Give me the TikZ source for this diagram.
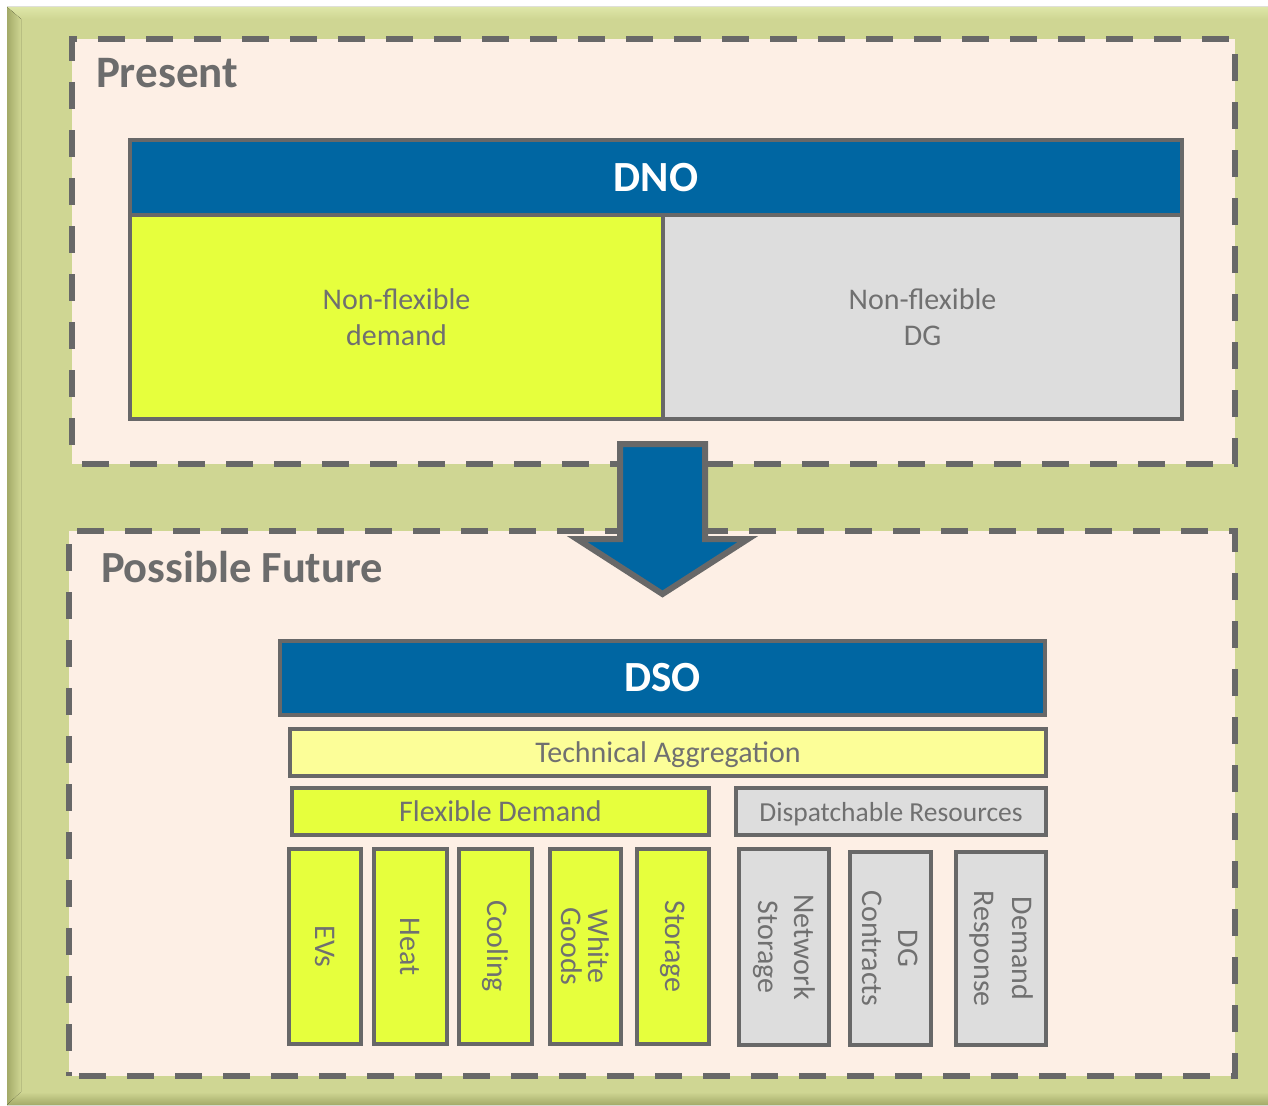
\documentclass[tikz,border=0pt]{standalone}
\usepackage{fontspec}
\setmainfont{Carlito}
\definecolor{frameGreen}{HTML}{CFD693}
\definecolor{frameLight}{HTML}{DEE6A8}
\definecolor{frameDark}{HTML}{A3AA68}
\definecolor{peach}{HTML}{FDEFE5}
\definecolor{edgeGray}{HTML}{686868}
\definecolor{txtGray}{HTML}{707070}
\definecolor{headGray}{HTML}{6C6C6C}
\definecolor{dnoBlue}{HTML}{0066A2}
\definecolor{limeFill}{HTML}{E6FF3D}
\definecolor{paleYellow}{HTML}{FCFE98}
\definecolor{lightGray}{HTML}{DDDDDD}
\begin{document}
\begin{tikzpicture}[x=1pt,y=-1pt,
  panel/.style={draw=edgeGray, fill=peach, line width=6pt,
    dash pattern=on 27pt off 21pt, dash phase=-10pt,
    inner sep=0pt, outer sep=0pt, anchor=north west},
  heading/.style={anchor=base west, inner sep=0pt, outer sep=0pt, text=headGray,
    font=\bfseries\fontsize{45}{54}\selectfont},
  box/.style={draw=edgeGray, line width=4.5pt, inner sep=0pt, outer sep=0pt,
    text=txtGray, align=center, font=\fontsize{30}{36}\selectfont},
  headbar/.style={box, fill=dnoBlue, text=white, anchor=north west,
    font=\bfseries\fontsize{43}{52}\selectfont},
  flatbox/.style={box, anchor=north west},
  stripbox/.style={flatbox, text height=20pt, text depth=0pt},
  vbox/.style={box, rotate=-90},
  blockarrow/.style={draw=edgeGray, fill=dnoBlue, line width=6pt, miter limit=10}
]
\useasboundingbox (0,0) rectangle (1268,1105);

% outer bevelled frame
\fill[white] (0,0) rectangle (1268,1105);
\fill[frameGreen] (7,7) rectangle (1268,1105);
\fill[top color=frameLight, bottom color=frameGreen] (7,7) -- (1268,7) -- (1268,19) -- (21,19) -- cycle;
\fill[left color=frameDark, right color=frameGreen] (7,7) -- (21,19) -- (21,1092) -- (7,1105) -- cycle;
\fill[top color=frameGreen, bottom color=frameDark] (7,1105) -- (21,1092) -- (1268,1092) -- (1268,1105) -- cycle;

% the two dashed panels
\node[panel, minimum width=1163pt, minimum height=425pt] (present) at (72,39) {};
\node[panel, minimum width=1166pt, minimum height=545pt] (future) at (69,531) {};

\node[heading] (presentlbl) at (96,88) {Present};
\node[heading, font=\bfseries\fontsize{44.5}{54}\selectfont] (futurelbl) at (101,582) {Possible Future};

% present situation
\node[headbar, minimum width=1052pt, minimum height=75pt] (dno) at (130,140) {DNO};
\node[flatbox, fill=limeFill, minimum width=533pt, minimum height=204pt] (nfdemand) at (130,215) {Non-flexible\\demand};
\node[flatbox, fill=lightGray, minimum width=519pt, minimum height=204pt] (nfdg) at (663,215) {Non-flexible\\DG};

% possible future
\node[headbar, minimum width=765pt, minimum height=74pt] (dso) at (280,641) {DSO};
\node[stripbox, fill=paleYellow, minimum width=756pt, minimum height=47pt] (techagg) at (290,729) {Technical Aggregation};
\node[stripbox, fill=limeFill, minimum width=417pt, minimum height=47pt] (flexdem) at (292,788) {Flexible Demand};
\node[stripbox, fill=lightGray, minimum width=310pt, minimum height=47pt,
  text height=19pt, font=\fontsize{27.5}{33}\selectfont] (dispatch) at (736,788) {Dispatchable Resources};

\node[vbox, fill=limeFill, minimum width=195pt, minimum height=72pt] (evs) at (325,946.5) {EVs};
\node[vbox, fill=limeFill, minimum width=195pt, minimum height=73pt] (heat) at (410.5,946.5) {Heat};
\node[vbox, fill=limeFill, minimum width=195pt, minimum height=73pt] (cooling) at (495.5,946.5) {Cooling};
\node[vbox, fill=limeFill, minimum width=195pt, minimum height=71pt,
  font=\fontsize{30}{27}\selectfont] (whitegoods) at (585.5,946.5) {White\\Goods};
\node[vbox, fill=limeFill, minimum width=195pt, minimum height=72pt] (storage) at (673,946.5) {Storage};

\node[vbox, fill=lightGray, minimum width=196pt, minimum height=90pt] (netstorage) at (784,947) {Network\\Storage};
\node[vbox, fill=lightGray, minimum width=193pt, minimum height=81pt] (dgcontracts) at (890.5,948.5) {DG\\Contracts};
\node[vbox, fill=lightGray, minimum width=193pt, minimum height=90pt,
  font=\fontsize{30}{38}\selectfont] (demresp) at (1001,948.5) {Demand\\Response};

% transition arrow from present to future
\draw[blockarrow] (620,444) -- (705,444) -- (705,539) -- (748,539) -- (662.5,594)
  -- (577,539) -- (620,539) -- cycle;
\end{tikzpicture}
\end{document}
